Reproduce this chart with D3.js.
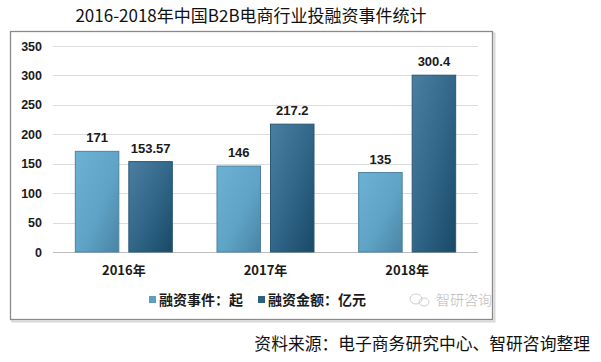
<!DOCTYPE html>
<head>
    <meta charset="utf-8">
    <title>2016-2018年中国B2B电商行业投融资事件统计</title>
    <script src="https://d3js.org/d3.v7.min.js"></script>
</head>
<style>
body {
  margin: 0;
  background: #fff;
  font-family: "Noto Sans CJK SC", "Liberation Sans", Arial, sans-serif;
}
</style>
<body>
    <svg></svg>
</body>

<script>

    // Data
    var years = ["2016年", "2017年", "2018年"];
    var series = ["融资事件：起", "融资金额：亿元"];
    var events = [171, 146, 135];
    var amounts = [153.57, 217.2, 300.4];
    var amountLabels = ["153.57", "217.2", "300.4"];
    var yTicks = [0, 50, 100, 150, 200, 250, 300, 350];

    var width = 601;
    var height = 362;

    var svg = d3.select('svg')
        .attr('width', width)
        .attr('height', height);

    // gradients for the two bar colours
    var defs = svg.append('defs');
    function gradient(id, stops) {
        var g = defs.append('linearGradient').attr('id', id)
            .attr('x1', 0).attr('y1', 0).attr('x2', 1).attr('y2', 1);
        stops.forEach(function (s) {
            g.append('stop').attr('offset', s[0]).attr('stop-color', s[1]);
        });
    }
    gradient('lightBar', [[0, '#6cb2d5'], [0.55, '#5fa4c7'], [1, '#4a84a3']]);
    gradient('darkBar', [[0, '#4a7fa0'], [0.5, '#32678a'], [1, '#184a66']]);
    var fills = ['url(#lightBar)', 'url(#darkBar)'];
    var strokes = ['#4d829e', '#2a5773'];
    var legendFills = ['#5d9fc0', '#2f5f7e'];

    // title
    svg.append('text')
        .attr('x', 251).attr('y', 22)
        .attr('text-anchor', 'middle')
        .style('font-size', '17px')
        .attr('fill', '#111')
        .text('2016-2018年中国B2B电商行业投融资事件统计');

    // chart frame
    svg.append('rect')
        .attr('x', 12.5).attr('y', 33.5)
        .attr('width', 482).attr('height', 288)
        .attr('fill', 'none').attr('stroke', '#d8d8d8').attr('stroke-width', 2);
    svg.append('rect')
        .attr('x', 10.5).attr('y', 31.5)
        .attr('width', 482).attr('height', 288)
        .attr('fill', '#fff').attr('stroke', '#8a8a8a').attr('stroke-width', 1.3);

    // scales
    var x0 = d3.scaleBand().domain(years).range([53, 478]);
    var x1 = d3.scaleBand().domain(series).range([0, x0.bandwidth()])
        .paddingInner(0.187).paddingOuter(0.4175);
    var y = d3.scaleLinear().domain([0, 350]).range([252, 46]);

    // grid
    svg.append('g').selectAll('line')
        .data(yTicks)
        .enter().append('line')
        .attr('x1', 53).attr('x2', 478)
        .attr('y1', function (d) { return Math.round(y(d)) + 0.5; })
        .attr('y2', function (d) { return Math.round(y(d)) + 0.5; })
        .attr('stroke', function (d) { return d === 0 ? '#bdbdbd' : '#dcdcdc'; })
        .attr('stroke-width', 1);

    // y axis labels
    var yAxis = svg.append('g')
        .attr('transform', 'translate(42,0)')
        .call(d3.axisLeft(y).tickValues(yTicks).tickSize(0).tickPadding(0));
    yAxis.select('.domain').remove();
    yAxis.selectAll('text')
        .style('font-family', '"Liberation Sans", Arial, sans-serif')
        .style('font-size', '12.5px')
        .style('font-weight', 'bold')
        .attr('fill', '#1a1a1a');

    // bars
    var rows = years.map(function (yr, i) {
        return [
            { year: yr, key: series[0], value: events[i], label: String(events[i]), s: 0 },
            { year: yr, key: series[1], value: amounts[i], label: amountLabels[i], s: 1 }
        ];
    });

    var groups = svg.append('g').selectAll('g')
        .data(rows)
        .enter().append('g')
        .attr('transform', function (d) { return 'translate(' + x0(d[0].year) + ',0)'; });

    groups.selectAll('rect')
        .data(function (d) { return d; })
        .enter().append('rect')
        .attr('x', function (d) { return x1(d.key); })
        .attr('y', function (d) { return y(d.value); })
        .attr('width', x1.bandwidth())
        .attr('height', function (d) { return y(0) - y(d.value); })
        .attr('fill', function (d) { return fills[d.s]; })
        .attr('stroke', function (d) { return strokes[d.s]; })
        .attr('stroke-width', 1);

    groups.selectAll('text')
        .data(function (d) { return d; })
        .enter().append('text')
        .attr('x', function (d) { return x1(d.key) + x1.bandwidth() / 2; })
        .attr('y', function (d) { return y(d.value) - 9; })
        .attr('text-anchor', 'middle')
        .style('font-family', '"Liberation Sans", Arial, sans-serif')
        .style('font-size', '13px')
        .style('font-weight', 'bold')
        .attr('fill', '#1a1a1a')
        .text(function (d) { return d.label; });

    // category labels
    var xAxis = svg.append('g')
        .attr('transform', 'translate(0,252)')
        .call(d3.axisBottom(x0).tickSize(0).tickPadding(0));
    xAxis.select('.domain').remove();
    xAxis.selectAll('text')
        .attr('dy', '23px')
        .style('font-family', '"Noto Sans CJK SC", sans-serif')
        .style('font-size', '13px')
        .style('font-weight', 'bold')
        .attr('fill', '#1a1a1a');

    // legend
    var legendX = [149, 258];
    var legend = svg.append('g').selectAll('g')
        .data(series)
        .enter().append('g')
        .attr('transform', function (d, i) { return 'translate(' + legendX[i] + ',296)'; });
    legend.append('rect')
        .attr('width', 7).attr('height', 7)
        .attr('fill', function (d, i) { return legendFills[i]; });
    legend.append('text')
        .attr('x', 10).attr('y', 8.5)
        .style('font-family', '"Noto Sans CJK SC", sans-serif')
        .style('font-size', '14px')
        .style('font-weight', 'bold')
        .attr('fill', '#1a1a1a')
        .text(function (d) { return d; });

    // watermark
    var wm = svg.append('g').attr('transform', 'translate(410,300)').attr('fill', 'none').attr('stroke', '#cfcfcf');
    wm.append('ellipse').attr('cx', 6).attr('cy', -1).attr('rx', 6).attr('ry', 5);
    wm.append('ellipse').attr('cx', 14).attr('cy', 2).attr('rx', 5).attr('ry', 4);
    svg.append('text')
        .attr('x', 436).attr('y', 305)
        .style('font-size', '14px')
        .style('font-weight', 300)
        .attr('fill', '#b8b8b8')
        .text('智研咨询');

    // source
    svg.append('text')
        .attr('x', 590).attr('y', 350)
        .attr('text-anchor', 'end')
        .style('font-size', '16.8px')
        .attr('fill', '#111')
        .text('资料来源：电子商务研究中心、智研咨询整理');

</script>
